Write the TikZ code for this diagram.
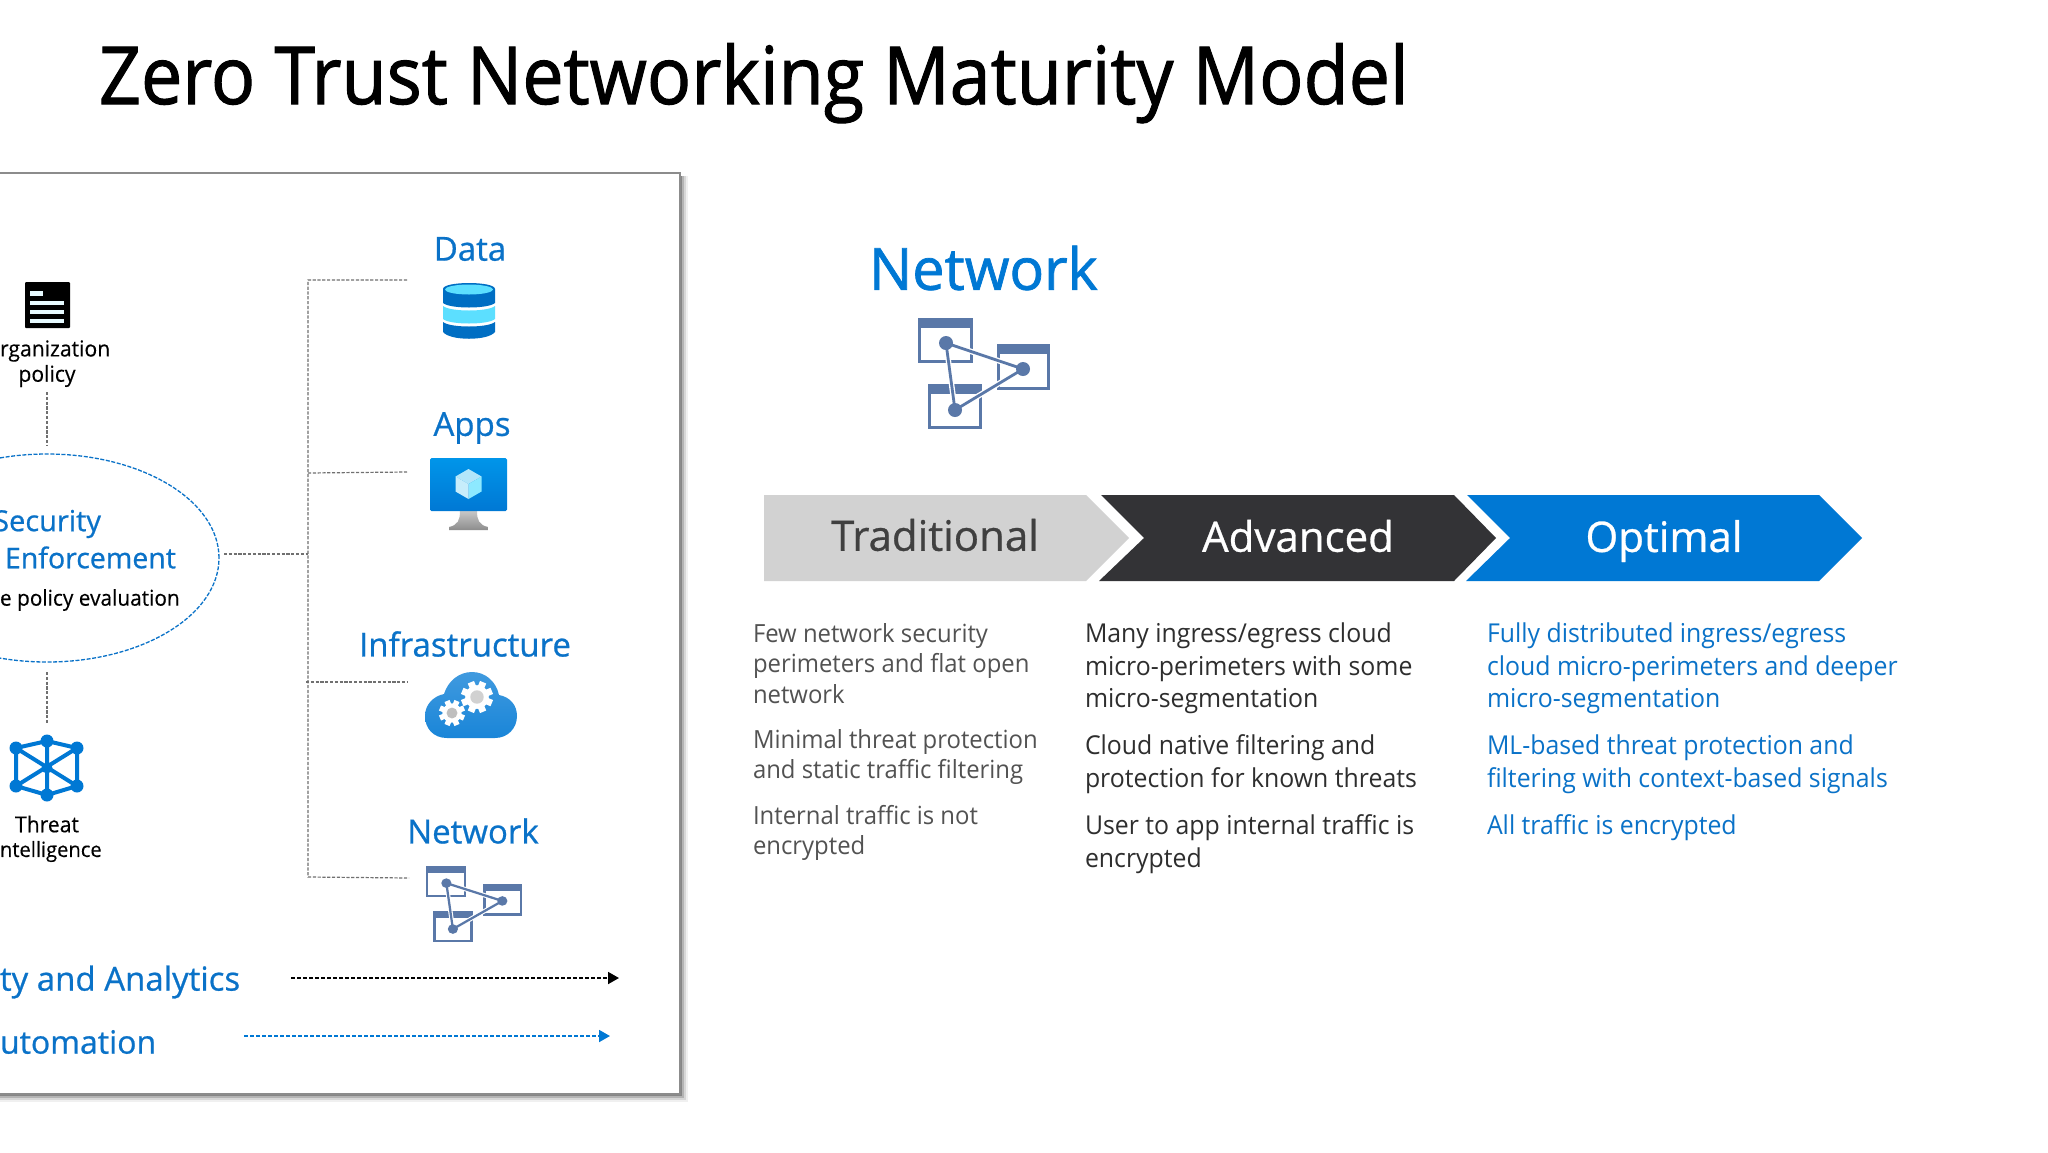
\documentclass[tikz,border=0pt]{standalone}
\usepackage{fontspec}
\setmainfont{Open Sans}
\newfontfamily\semif[FakeBold=1.3,FakeStretch=0.92]{Open Sans}
\newfontfamily\bigf[FakeBold=1.3,FakeStretch=0.99]{Open Sans}
\newfontfamily\headf[FakeBold=0.7,FakeStretch=1.0]{Open Sans}
\newfontfamily\capf[FakeBold=0.3,FakeStretch=0.96]{Open Sans}
\newfontfamily\regf[FakeStretch=0.955]{Open Sans}
\usetikzlibrary{arrows.meta,shapes.geometric}
\definecolor{azure}{HTML}{0078D4}
\definecolor{labelblue}{HTML}{0A72C8}
\definecolor{netslate}{HTML}{5A78A8}
\definecolor{dashgrey}{HTML}{707070}
\definecolor{cyanlite}{HTML}{5CDFFF}
\definecolor{chevgrey}{HTML}{D2D2D2}
\definecolor{chevdark}{HTML}{333336}
\newcommand{\fz}[2]{\fontsize{#1}{#2}\selectfont}
\tikzset{
  every node/.style={inner sep=0pt,outer sep=0pt},
  treeline/.style={draw=dashgrey,line width=1.2pt,dash pattern=on 3.2pt off 1.6pt},
  heading/.style={text=labelblue,font=\headf\fz{33}{40}},
  smallcap/.style={text=black,font=\capf\fz{22}{26},align=center},
  para/.style={anchor=north west,align=left,font=\regf\fz{26}{32.5}},
  chevlabel/.style={font=\headf\fz{42}{50}},
}
\newcommand{\neticon}[5]{%
\begin{scope}[shift={(#1,#2)},xscale=#3,yscale=#4]
\foreach \bx/\by/\bw/\bh in {0/0/55/45,79/26/53/46,10/66/54/45}{
  \draw[netslate,line width=#5*3pt] (\bx+1.5,\by+1.5) rectangle ++(\bw-3,\bh-3);
  \fill[netslate] (\bx,\by) rectangle ++(\bw,10);
}
\draw[white,line width=#5*5.5pt,line join=round] (28,25) -- (105,51) -- (37,92) -- cycle;
\draw[netslate,line width=#5*2.8pt,line join=round] (28,25) -- (105,51) -- (37,92) -- cycle;
\fill[netslate] (28,25) circle [radius=7];
\fill[netslate] (105,51) circle [radius=7];
\fill[netslate] (37,92) circle [radius=7];
\end{scope}}
\newcommand{\gearicon}[4]{%
\foreach \a in {0,45,...,315}{
  \draw[white,line width=#3*0.42pt] (#1,#2) -- ++(\a+22.5:#3);
}
\fill[white] (#1,#2) circle [radius=#3*0.74];
\fill[#4] (#1,#2) circle [radius=#3*0.42];
}
\begin{document}
\begin{tikzpicture}[x=1pt,y=-1pt]
\path[use as bounding box] (0,0) rectangle (2048,1152);
\clip (0,0) rectangle (2048,1152);
\fill[white] (0,0) rectangle (2048,1152);

% title
\node[anchor=base west,font=\semif\fz{80}{90}] (title) at (99,104) {Zero Trust Networking Maturity Model};

% panel with soft shadow
\foreach \d/\o in {8/0.06,6/0.10,4/0.16,2/0.25}{
  \fill[black,opacity=\o] (-20,176) rectangle (680+\d,1094+\d);
}
\draw[fill=white,draw=gray!90,line width=1.8pt] (-20,173) rectangle (680,1094);

% organization policy icon
\fill[black,rounded corners=1pt] (25,282) rectangle (70,328);
\fill[cyanlite!15] (30,291) rectangle (43,296);
\fill[cyanlite!15] (30,301) rectangle (64,305);
\fill[cyanlite!15] (30,310) rectangle (64,314);
\fill[cyanlite!15] (30,319) rectangle (64,323);
\node[smallcap,anchor=west] (orgA) at (0,351) {rganization};
\node[smallcap] (orgB) at (47,376) {policy};

% enforcement ellipse
\node[ellipse,draw=labelblue,line width=1.3pt,dash pattern=on 4pt off 1.6pt,minimum width=344pt,minimum height=208pt] (enf) at (47,558) {};
\node[heading,font=\headf\fz{29}{35},anchor=east] (secA) at (101,524) {Security};
\node[heading,font=\headf\fz{28.5}{35},anchor=west] (secB) at (5,557.5) {Enforcement};
\node[smallcap,font=\capf\fz{21.7}{26},anchor=west] (secC) at (0,600) {e policy evaluation};

% threat intelligence icon
\coordinate (tT) at (47,741);
\coordinate (tUL) at (16,748);
\coordinate (tUR) at (77,748);
\coordinate (tLL) at (16,786);
\coordinate (tLR) at (77,786);
\coordinate (tB) at (47,795);
\coordinate (tC) at (47,768);
\draw[azure,line width=4pt] (tT) -- (tUR) -- (tLR) -- (tB) -- (tLL) -- (tUL) -- cycle;
\draw[azure,line width=4pt] (tT) -- (tB) (tUL) -- (tLR) (tUR) -- (tLL);
\foreach \p in {tT,tUL,tUR,tLL,tLR,tB}{\fill[azure] (\p) circle [radius=6.5];}
\fill[azure] (tC) circle [radius=5.5];
\node[smallcap] (thrA) at (47,824) {Threat};
\node[smallcap,font=\capf\fz{21}{26},anchor=west] (thrB) at (0,851.5) {ntelligence};

% vertical connectors on the left
\coordinate (orgPort) at (47,392);
\coordinate (enfTop) at (47,445);
\coordinate (enfBot) at (47,672);
\coordinate (thrPort) at (47,723);
\draw[treeline] (orgPort) -- (enfTop);
\draw[treeline] (enfBot) -- (thrPort);

% tree
\coordinate (trunkTop) at (308,280);
\coordinate (trunkApps) at (308,473);
\coordinate (trunkEnf) at (308,554);
\coordinate (trunkInf) at (306,682);
\coordinate (trunkBot) at (308,877);
\coordinate (dataPort) at (407,280);
\coordinate (appsPort) at (407,472);
\coordinate (infPort) at (407,682);
\coordinate (netPort) at (409,878);
\coordinate (enfPort) at (224,554);
\draw[treeline] (dataPort) -- (trunkTop) -- (trunkBot) -- (netPort);
\draw[treeline] (trunkApps) -- (appsPort);
\draw[treeline] (enfPort) -- (trunkEnf);
\draw[treeline] (trunkInf) -- (infPort);

% pillar headings
\node[heading] (hData) at (470,249) {Data};
\node[heading] (hApps) at (472,428) {Apps};
\node[heading] (hInf) at (465,644) {Infrastructure};
\node[heading] (hNet) at (473,831) {Network};

% database icon
\fill[azure!92!black] (443,289) -- (443,303) .. controls (450,309) and (488,309) .. (495,303) -- (495,289) .. controls (495,281) and (443,281) .. (443,289) -- cycle;
\fill[cyanlite] (469,289.5) ellipse [x radius=24,y radius=5];
\fill[cyanlite] (443,306) .. controls (450,312) and (488,312) .. (495,306) -- (495,319) .. controls (488,325) and (450,325) .. (443,319) -- cycle;
\fill[azure!92!black] (443,322) .. controls (450,328) and (488,328) .. (495,322) -- (495,332) .. controls (488,341) and (450,341) .. (443,332) -- cycle;

% monitor icon
\shade[top color=black!22,bottom color=black!45] (460,511) -- (477,511) .. controls (477,520) and (479,525) .. (488,527) -- (488,530) -- (449,530) -- (449,527) .. controls (458,525) and (460,520) .. (460,511) -- cycle;
\shade[top color=blue!30!cyan!50!azure,bottom color=azure,rounded corners=1.5pt] (430,458) rectangle (507,511);
\fill[cyan!30] (468.5,469) -- (481.5,476.5) -- (468.5,484) -- (455.5,476.5) -- cycle;
\fill[cyanlite!70] (481.5,476.5) -- (481.5,491.5) -- (468.5,499) -- (468.5,484) -- cycle;
\fill[cyan!22] (455.5,476.5) -- (455.5,491.5) -- (468.5,499) -- (468.5,484) -- cycle;

% cloud icon
\shade[top color=azure!75,bottom color=azure!90] (447,738) .. controls (433,738) and (425,728) .. (425,716) .. controls (425,704) and (434,696) .. (444,694) .. controls (448,681) and (459,672) .. (472,672) .. controls (485,672) and (496,681) .. (499,695) .. controls (510,697) and (517,705) .. (517,716) .. controls (517,728) and (508,738) .. (495,738) -- cycle;
\gearicon{477}{697}{16}{black!18}
\gearicon{452}{713}{13}{black!25}

% small network icon
\neticon{426}{866}{0.727}{0.685}{0.8}

% analytics and automation arrows
\node[heading,anchor=west] (vis) at (0,982) {ty and Analytics};
\node[heading,font=\headf\fz{32}{40},anchor=west] (aut) at (0,1042) {utomation};
\coordinate (visFrom) at (291,978);
\coordinate (visTo) at (619,978);
\coordinate (autFrom) at (244,1036);
\coordinate (autTo) at (610,1036);
\draw[black,line width=1.8pt,dash pattern=on 4pt off 2pt,-{Triangle[length=11pt,width=12pt]}] (visFrom) -- (visTo);
\draw[azure,line width=1.8pt,dash pattern=on 4pt off 2pt,-{Triangle[length=11pt,width=12pt]}] (autFrom) -- (autTo);

% right heading and icon
\node[anchor=west,text=azure,font=\bigf\fz{58}{64}] (bigNet) at (869,268) {Network};
\neticon{918}{318}{1}{1}{1}

% chevrons
\fill[chevgrey] (764,495) -- (1086,495) -- (1129,538) -- (1086,581) -- (764,581) -- cycle;
\fill[chevdark] (1101,495) -- (1454,495) -- (1496,538) -- (1454,581) -- (1099,581) -- (1144,538) -- cycle;
\fill[azure] (1467,495) -- (1819,495) -- (1862,538) -- (1819,581) -- (1466,581) -- (1510,538) -- cycle;
\node[chevlabel,text=black!75] (lTrad) at (935,535) {Traditional};
\node[chevlabel,text=white] (lAdv) at (1298,536) {Advanced};
\node[chevlabel,text=white] (lOpt) at (1664,541) {Optimal};

% column one
\begin{scope}[every node/.append style={text=black!68}]
\node[para,font=\regf\fz{25}{30.5}] (a1) at (753,623) {Few network security\\perimeters and flat open\\network};
\node[para,font=\regf\fz{25}{30.5}] (a2) at (753,729) {Minimal threat protection\\and static traffic filtering};
\node[para,font=\regf\fz{25}{30.5}] (a3) at (753,805) {Internal traffic is not\\encrypted};
\end{scope}
% column two
\begin{scope}[every node/.append style={text=black!82}]
\node[para] (b1) at (1085,623) {Many ingress/egress cloud\\micro-perimeters with some\\micro-segmentation};
\node[para] (b2) at (1085,735) {Cloud native filtering and\\protection for known threats};
\node[para] (b3) at (1085,815) {User to app internal traffic is\\encrypted};
\end{scope}
% column three
\begin{scope}[every node/.append style={text=labelblue}]
\node[para] (c1) at (1487,623) {Fully distributed ingress/egress\\cloud micro-perimeters and deeper\\micro-segmentation};
\node[para] (c2) at (1487,735) {ML-based threat protection and\\filtering with context-based signals};
\node[para] (c3) at (1487,815) {All traffic is encrypted};
\end{scope}
\end{tikzpicture}
\end{document}
